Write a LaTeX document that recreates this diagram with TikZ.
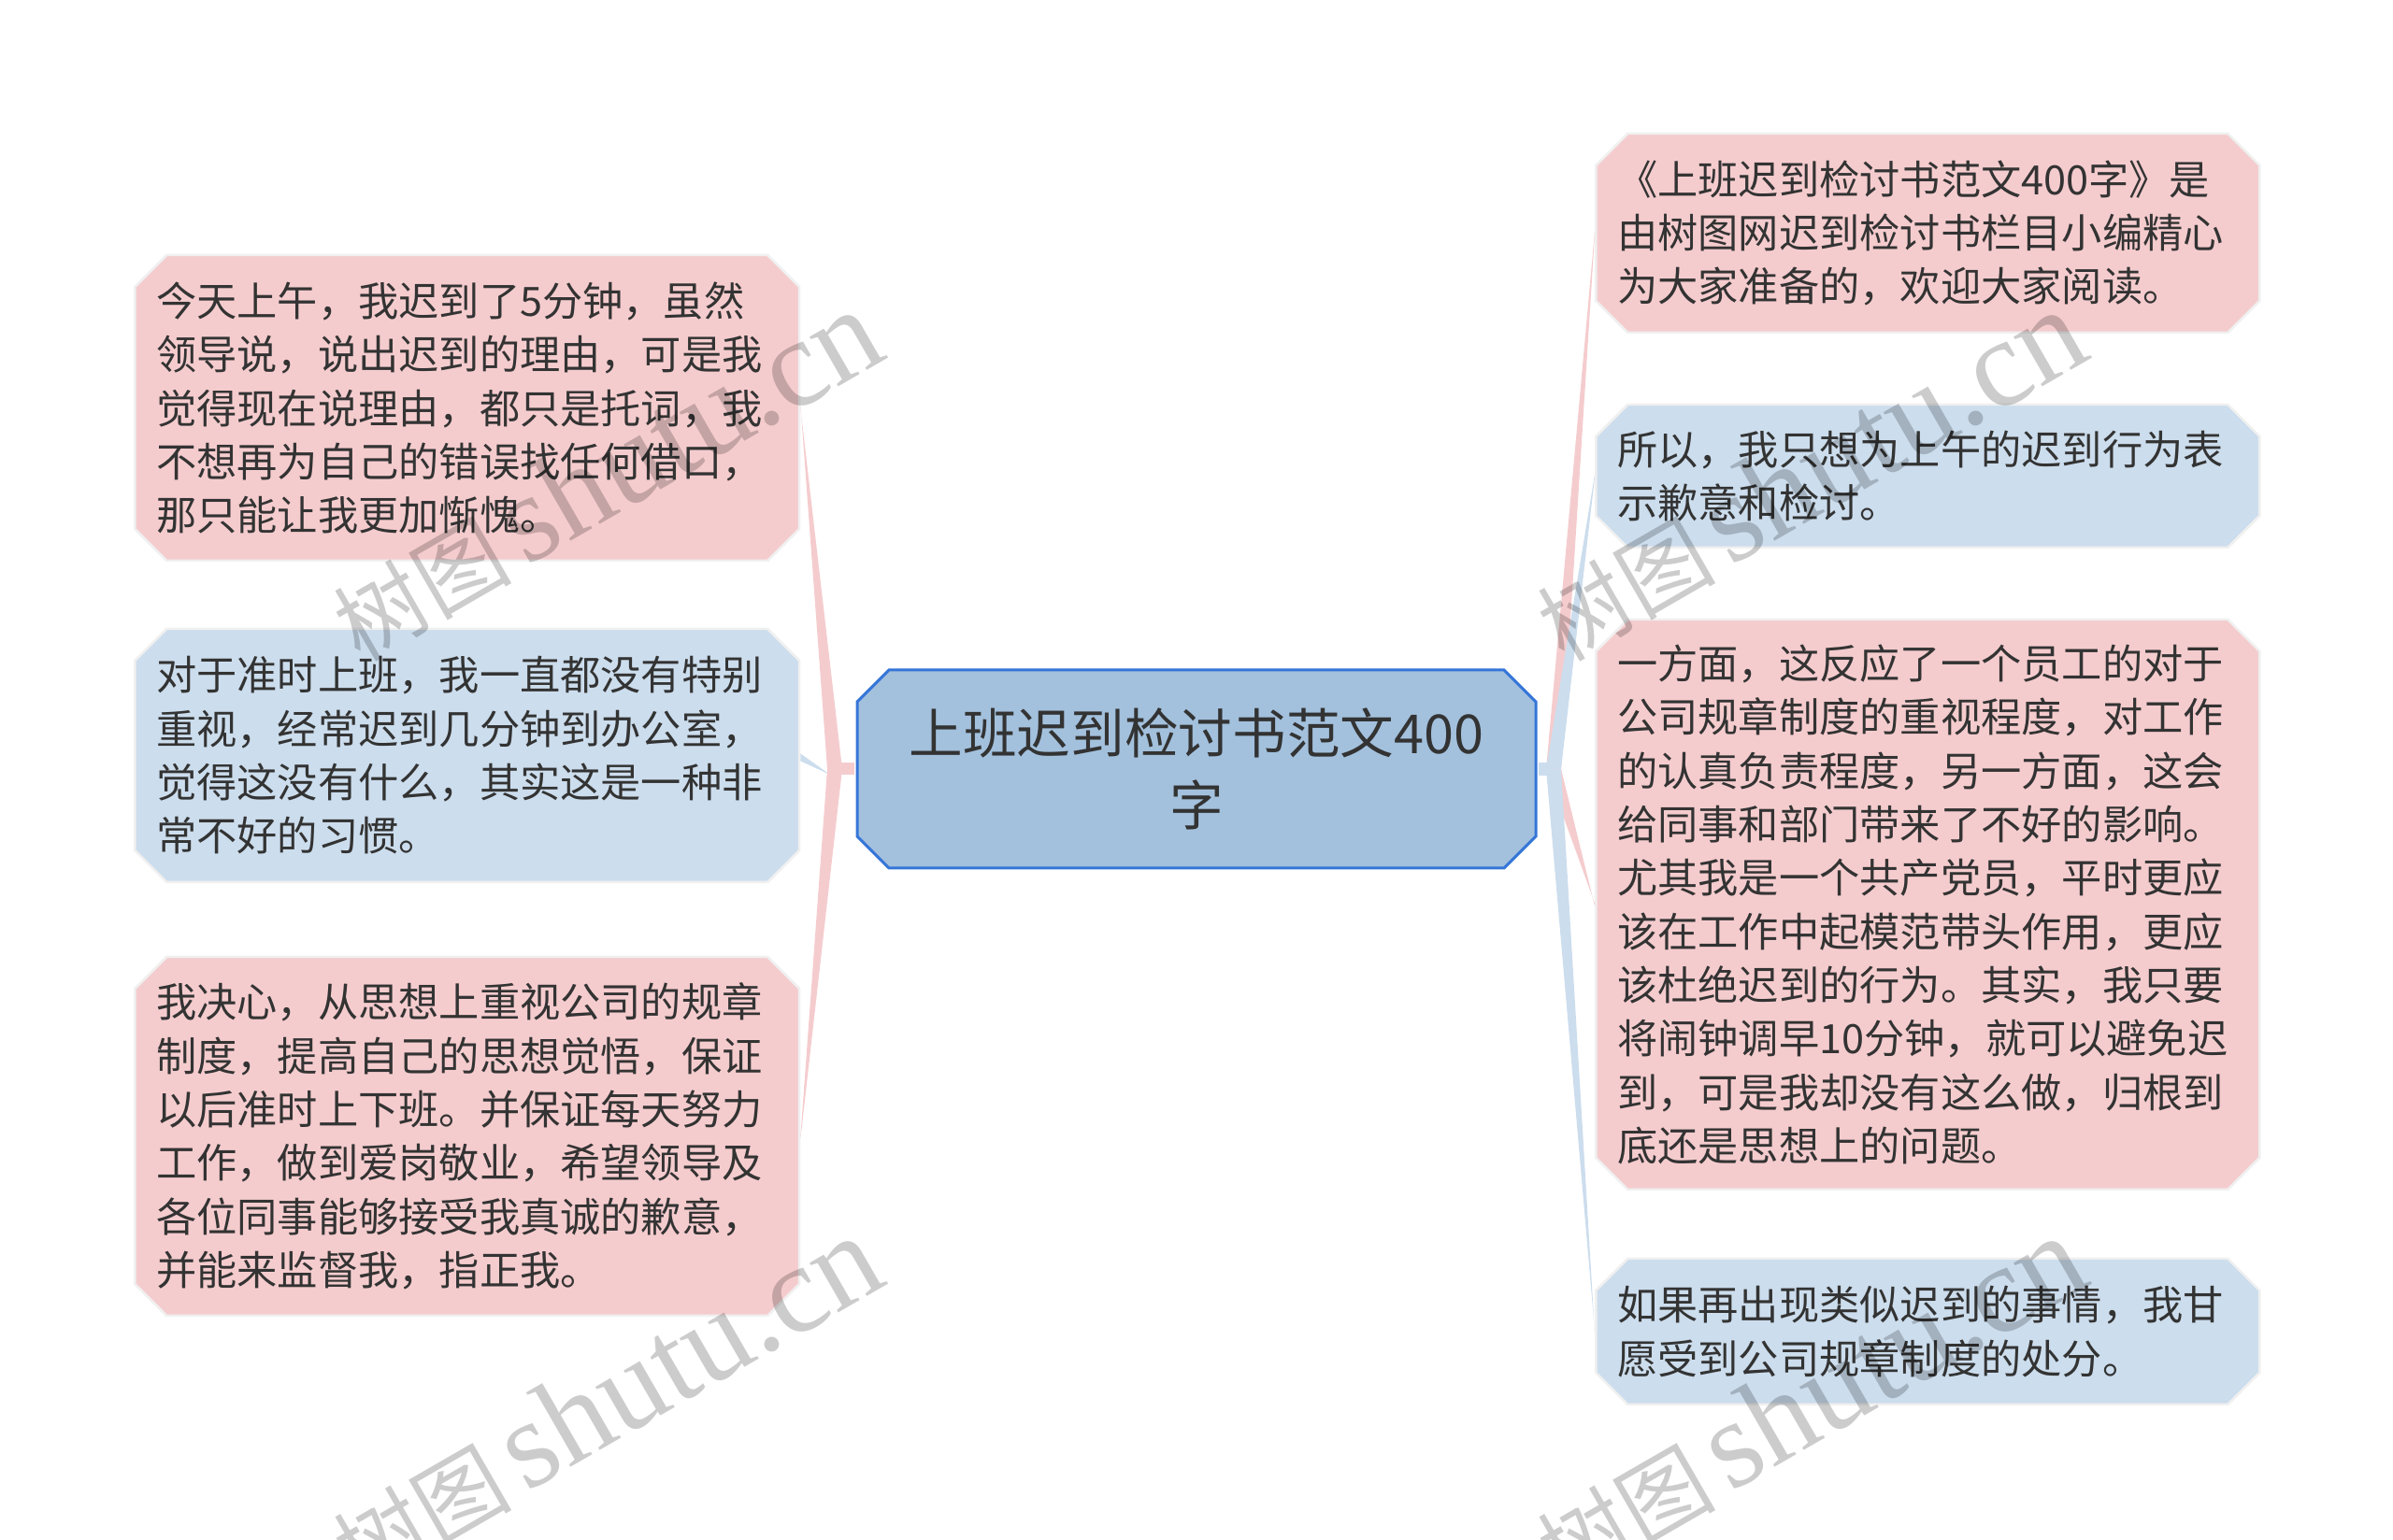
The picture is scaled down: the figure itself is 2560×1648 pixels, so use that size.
\documentclass[tikz,border=0pt]{standalone}
\usepackage{fontspec}
\setmainfont{Noto Sans CJK SC}
\newfontfamily\stampfont{Liberation Serif}
\usetikzlibrary{shapes.misc,calc}

\definecolor{leafpink}{HTML}{F5CCCE}
\definecolor{leafblue}{HTML}{CCDDED}
\definecolor{hubfill}{HTML}{A3C1DD}
\definecolor{hubline}{HTML}{3575D8}
\definecolor{ink}{HTML}{333333}

\begin{document}
\begin{tikzpicture}[x=0.1mm,y=-0.1mm,
	card/.style={chamfered rectangle,chamfered rectangle xsep=1.7mm,chamfered rectangle ysep=1.7mm,text=ink,inner sep=0pt},
	leaf/.style={card,draw=black!6,line width=0.25mm,text width=66.5mm,inner xsep=0.6mm,align=left,anchor=west,font=\fontsize{12.3pt}{16.3pt}\selectfont},
	hub/.style={card,fill=hubfill,draw=hubline,line width=0.3mm,align=center,minimum width=72.6mm,minimum height=21.2mm,font=\fontsize{16.4pt}{21.9pt}\selectfont},
	stamp/.style={rotate=30,text=black,opacity=0.2,inner sep=0pt}]
\useasboundingbox (0,0) rectangle (2560,1648);

\node[hub]			(hub)	at (1280,823)	{上班迟到检讨书范文400\\字};

\node[leaf,fill=leafpink,minimum height=32.7mm]	(l1)	at (143,436.5)	{今天上午，我迟到了5分钟，虽然\\
领导说，说出迟到的理由，可是我\\
觉得现在说理由，都只是托词，我\\
不想再为自己的错误找任何借口，\\
那只能让我更加惭愧。};
\node[leaf,fill=leafblue,minimum height=27.1mm]	(l2)	at (143,808.5)	{对于准时上班，我一直都没有特别\\
重视，经常迟到几分钟到办公室，\\
觉得这没有什么，其实这是一种非\\
常不好的习惯。};
\node[leaf,fill=leafpink,minimum height=38.4mm]	(l3)	at (143,1216)	{我决心，从思想上重视公司的规章\\
制度，提高自己的思想觉悟，保证\\
以后准时上下班。并保证每天努力\\
工作，做到爱岗敬业，希望领导及\\
各位同事能够接受我真诚的歉意，\\
并能来监督我，指正我。};

\node[leaf,fill=leafpink,text width=66.4mm,minimum height=21.3mm]	(r1)	at (1706,249.5)	{《上班迟到检讨书范文400字》是\\
由树图网迟到检讨书栏目小编精心\\
为大家准备的，欢迎大家阅读。};
\node[leaf,fill=leafblue,text width=66.4mm,minimum height=15.3mm]	(r2)	at (1706,509.5)	{所以，我只想为上午的迟到行为表\\
示歉意和检讨。};
\node[leaf,fill=leafpink,text width=66.4mm,minimum height=61mm]	(r3)	at (1706,968)	{一方面，这反应了一个员工的对于\\
公司规章制度的重视程度，对工作\\
的认真负责程度，另一方面，这会\\
给同事和部门带来了不好的影响。\\
尤其我是一个共产党员，平时更应\\
该在工作中起模范带头作用，更应\\
该杜绝迟到的行为。其实，我只要\\
将闹钟调早10分钟，就可以避免迟\\
到，可是我却没有这么做，归根到\\
底还是思想上的问题。};
\node[leaf,fill=leafblue,text width=66.4mm,minimum height=15.6mm]	(r4)	at (1706,1425)	{如果再出现类似迟到的事情，我甘\\
愿受到公司规章制度的处分。};

\coordinate (jl) at (893,823);
\coordinate (jr) at (1662,823);

\fill[leafblue] ($(l2.east)+(0,-2)$) -- ($(l2.east)+(0,6)$) -- ($(jl)+(-5,6)$) -- cycle;
\foreach \leaf in {l1,l3}
	\fill[leafpink] ($(jl)+(-8,0)$) -- ($(\leaf.east)+(0,-1.5)$) -- ($(\leaf.east)+(0,1.5)$) -- ($(jl)+(8,0)$) -- cycle;
\fill[leafpink] ($(hub.west)+(-1.5,-6.5)$) rectangle ($(jl)+(0,6.5)$);

\foreach \leaf/\tint in {r1/leafpink,r2/leafblue,r3/leafpink,r4/leafblue}
	\fill[\tint] ($(jr)+(-8,0)$) -- ($(\leaf.west)+(0,-1.5)$) -- ($(\leaf.west)+(0,1.5)$) -- ($(jr)+(8,0)$) -- cycle;
\fill[leafblue] ($(hub.east)+(1.5,-7)$) rectangle ($(jr)+(0,7)$);

\foreach \wx/\wy [count=\k] in {648/509,1936/509,648/1500,1936/1500}
	\node[stamp] (stamp\k) at (\wx,\wy) {\fontsize{27pt}{27pt}\selectfont 树图\,\stampfont\fontsize{38pt}{38pt}\selectfont shutu.cn};
\end{tikzpicture}
\end{document}
